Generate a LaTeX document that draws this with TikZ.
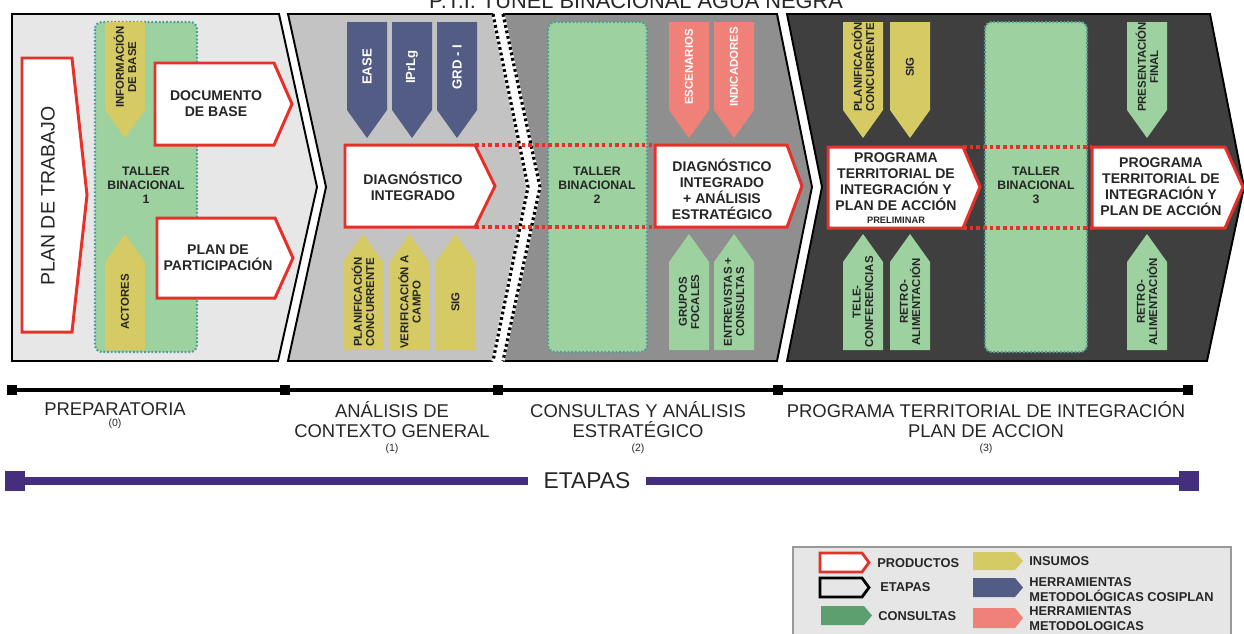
\documentclass[tikz,border=0pt]{standalone}
\usepackage{fontspec}
\setmainfont{Liberation Sans}
\usetikzlibrary{calc}
\definecolor{secA}{HTML}{E7E7E7}
\definecolor{secB}{HTML}{C3C3C3}
\definecolor{secC}{HTML}{8F8F8F}
\definecolor{secD}{HTML}{3F3F3F}
\definecolor{rojo}{HTML}{E4322B}
\definecolor{amar}{HTML}{D6CA64}
\definecolor{azul}{HTML}{525C85}
\definecolor{salm}{HTML}{EF8179}
\definecolor{verde}{HTML}{9DD1A0}
\definecolor{verdeO}{HTML}{5E9F70}
\definecolor{tealb}{HTML}{4E9C9B}
\definecolor{purp}{HTML}{432F7E}
\definecolor{txt}{HTML}{262626}
\definecolor{legbg}{HTML}{E6E6E6}
\newcommand{\myfs}[2]{\fontsize{#1}{#2}\selectfont}
% down arrow: name, xl, xr, fill, textcolor, text, font
\newcommand{\mkdown}[7]{%
  \fill[#4] (#2,22) -- (#3,22) -- (#3,110) -- ({(#2+#3)/2},138) -- (#2,110) -- cycle;
  \node[arrtxt, text=#5, font=#7] (#1) at ({(#2+#3)/2},67) {#6};}
\newcommand{\mkup}[7]{%
  \fill[#4] (#2,350) -- (#3,350) -- (#3,262) -- ({(#2+#3)/2},234) -- (#2,262) -- cycle;
  \node[arrtxt, text=#5, font=#7] (#1) at ({(#2+#3)/2},302) {#6};}
\tikzset{
  secline/.style={draw=black, line width=1.1pt, line join=miter},
  dotline/.style={draw=white, line width=1.8pt, postaction={draw=black, line width=1.8pt, dash pattern=on 1.6pt off 1.6pt}},
  taller/.style={fill=verde, draw=tealb, line width=1.2pt, dash pattern=on 1pt off 1.1pt, rounded corners=4pt},
  tallertxt/.style={font=\bfseries\myfs{7}{8}, align=center, text=txt, inner sep=0pt},
  arrtxt/.style={rotate=90, align=center, inner sep=0pt},
  prod/.style={draw=rojo, line width=1.7pt, fill=white, line join=miter},
  prodtxt/.style={font=\bfseries\myfs{8}{9.1}, align=center, text=txt, inner sep=0pt},
  reddot/.style={draw=rojo, line width=2pt, dash pattern=on 2pt off 1.8pt},
  tl/.style={font=\myfs{10.5}{11.6}, align=center, text=txt, inner sep=0pt},
  tn/.style={font=\myfs{6}{7}, text=txt, inner sep=0pt},
  tsq/.style={fill=black, minimum size=0.2cm, inner sep=0pt},
  psq/.style={fill=purp, minimum size=0.4cm, inner sep=0pt},
  legtxt/.style={font=\bfseries\myfs{7.3}{8.5}, align=left, text=txt, inner sep=0pt, anchor=west},
}
\begin{document}
\begin{tikzpicture}[x=0.02cm,y=-0.02cm]
\useasboundingbox (0,0) rectangle (1244,633);
% title (cut at top)
\node[anchor=base, font=\myfs{12.4}{14}, text=txt, inner sep=0pt] (title) at (636,8) {P.T.I. TÚNEL BINACIONAL AGUA NEGRA};
% sections
\fill[secA] (12,14) -- (279,14) -- (317,187) -- (278,361) -- (12,361) -- cycle;
\draw[secline] (12,14) -- (279,14) -- (317,187) -- (278,361) -- (12,361) -- cycle;
\fill[secB] (288,14) -- (493,14) -- (528,187) -- (493,361) -- (288,361) -- (326,187) -- cycle;
\draw[secline] (493,14) -- (288,14) -- (326,187) -- (288,361) -- (493,361);
\draw[dotline] (493,14) -- (528,187) -- (493,361);
\fill[secC] (503,14) -- (777,14) -- (812,187) -- (777,361) -- (503,361) -- (540,187) -- cycle;
\draw[secline] (503,14) -- (777,14) -- (812,187) -- (777,361) -- (503,361);
\draw[dotline] (503,14) -- (540,187) -- (503,361);
\fill[secD] (787,14) -- (1210,14) -- (1244,187) -- (1207,361) -- (787,361) -- (822,187) -- cycle;
\draw[secline] (787,14) -- (1210,14) -- (1244,187) -- (1207,361) -- (787,361) -- (822,187) -- cycle;
% talleres
\draw[taller] (95,22) rectangle (197,352);
\draw[taller] (548,22) rectangle (647,352);
\draw[taller] (985,22) rectangle (1087,352);
% section 1
\mkdown{infobase}{105}{145}{amar}{txt}{INFORMACIÓN\\DE BASE}{\bfseries\myfs{6.5}{7}}
\mkup{actores}{105}{145}{amar}{txt}{ACTORES}{\bfseries\myfs{6.5}{7}}
\node[tallertxt] (t1) at (146,185) {TALLER\\BINACIONAL\\1};
\draw[prod] (22,58) -- (72,58) -- (87,195) -- (72,332) -- (22,332) -- cycle;
\node[rotate=90, font=\myfs{11.1}{12}, text=txt, inner sep=0pt] (plan) at (48,196) {PLAN DE TRABAJO};
\draw[prod] (155,63) -- (274,63) -- (292,104) -- (274,145) -- (155,145) -- cycle;
\node[prodtxt] (doc) at (216,104) {DOCUMENTO\\DE BASE};
\draw[prod] (157,218) -- (275,218) -- (293,258) -- (275,298) -- (157,298) -- cycle;
\node[prodtxt] (part) at (218,258) {PLAN DE\\PARTICIPACIÓN};
% section 2
\mkdown{ease}{347}{387}{azul}{white}{EASE}{\bfseries\myfs{7.5}{8}}
\mkdown{iprlg}{392}{432}{azul}{white}{IPrLg}{\bfseries\myfs{7.5}{8}}
\mkdown{grd}{437}{477}{azul}{white}{GRD - I}{\bfseries\myfs{7.5}{8}}
\mkup{planc}{343}{383}{amar}{txt}{PLANIFICACIÓN\\CONCURRENTE}{\bfseries\myfs{6.5}{7}}
\mkup{verif}{390}{429}{amar}{txt}{VERIFICACIÓN A\\CAMPO}{\bfseries\myfs{6.5}{7}}
\mkup{sigA}{436}{475}{amar}{txt}{SIG}{\bfseries\myfs{6.5}{7}}
\draw[prod] (345,145) -- (475,145) -- (495,186) -- (475,227) -- (345,227) -- cycle;
\node[prodtxt] (diag) at (413,186) {DIAGNÓSTICO\\INTEGRADO};
% section 3
\node[tallertxt] (t2) at (597,185) {TALLER\\BINACIONAL\\2};
\mkdown{esc}{669}{709}{salm}{white}{ESCENARIOS}{\bfseries\myfs{6.5}{7}}
\mkdown{ind}{714}{754}{salm}{white}{INDICADORES}{\bfseries\myfs{6.5}{7}}
\mkup{grupos}{669}{709}{verde}{txt}{GRUPOS\\FOCALES}{\bfseries\myfs{6.5}{7}}
\mkup{entrev}{714}{754}{verde}{txt}{ENTREVISTAS +\\CONSULTAS}{\bfseries\myfs{6.5}{7}}
\draw[prod] (655,145) -- (787,145) -- (802,186) -- (787,227) -- (655,227) -- cycle;
\node[prodtxt] (diag2) at (722,189) {DIAGNÓSTICO\\INTEGRADO\\+ ANÁLISIS\\ESTRATÉGICO};
% section 4
\mkdown{planc2}{843}{883}{amar}{txt}{PLANIFICACIÓN\\CONCURRENTE}{\bfseries\myfs{6.5}{7}}
\mkdown{sigB}{890}{930}{amar}{txt}{SIG}{\bfseries\myfs{6.5}{7}}
\mkup{tele}{843}{883}{verde}{txt}{TELE-\\CONFERENCIAS}{\bfseries\myfs{6.5}{7}}
\mkup{retro1}{890}{930}{verde}{txt}{RETRO-\\ALIMENTACIÓN}{\bfseries\myfs{6.5}{7}}
\mkdown{pres}{1127}{1167}{verde}{txt}{PRESENTACIÓN\\FINAL}{\bfseries\myfs{6.5}{7}}
\mkup{retro2}{1127}{1167}{verde}{txt}{RETRO-\\ALIMENTACIÓN}{\bfseries\myfs{6.5}{7}}
\node[tallertxt] (t3) at (1036,185) {TALLER\\BINACIONAL\\3};
\draw[prod] (828,147) -- (963,147) -- (980,187) -- (963,228) -- (828,228) -- cycle;
\node[prodtxt] (pti1) at (896,188) {PROGRAMA\\TERRITORIAL DE\\INTEGRACIÓN Y\\PLAN DE ACCIÓN\\[-1.5pt]{\myfs{5.3}{6}PRELIMINAR}};
\draw[prod] (1092,147) -- (1225,147) -- (1243,187) -- (1225,228) -- (1092,228) -- cycle;
\node[prodtxt] (pti2) at (1161,187) {PROGRAMA\\TERRITORIAL DE\\INTEGRACIÓN Y\\PLAN DE ACCIÓN};
% red dotted links
\draw[reddot] (475,145) -- (655,145);
\draw[reddot] (475,227) -- (655,227);
\draw[reddot] (963,147) -- (1092,147);
\draw[reddot] (963,228) -- (1092,228);
% timeline
\node[tsq] (s0) at (12,390) {};
\node[tsq] (s1) at (285,390) {};
\node[tsq] (s2) at (498,390) {};
\node[tsq] (s3) at (778,390) {};
\node[tsq] (s4) at (1188,390) {};
\draw[line width=2.3pt] (s0) -- (s4);
\node[tl] (l0) at (115,409) {PREPARATORIA};
\node[tn] (n0) at (115,424) {(0)};
\node[tl, anchor=north] (l1) at (392,401) {ANÁLISIS DE\\CONTEXTO GENERAL};
\node[tn] (n1) at (392,449) {(1)};
\node[tl, anchor=north] (l2) at (638,401) {CONSULTAS Y ANÁLISIS\\ESTRATÉGICO};
\node[tn] (n2) at (638,449) {(2)};
\node[tl, anchor=north] (l3) at (986,401) {PROGRAMA TERRITORIAL DE INTEGRACIÓN\\PLAN DE ACCION};
\node[tn] (n3) at (986,449) {(3)};
% etapas bar
\node[psq] (p0) at (15,481) {};
\node[psq] (p1) at (1189,481) {};
\node[font=\myfs{13}{14}, text=txt, inner xsep=0.3cm, inner ysep=0pt] (etapas) at (587,481) {ETAPAS};
\draw[purp, line width=4pt] (p0) -- (etapas.west);
\draw[purp, line width=4pt] (etapas.east) -- (p1);
% legend
\draw[draw=gray!80, line width=0.6pt, fill=legbg] (793,547) rectangle (1231,650);
\draw[prod, line width=1.6pt] (820,553) -- (862,553) -- (869,562.5) -- (862,572) -- (820,572) -- cycle;
\node[legtxt] (lp) at (877,563) {PRODUCTOS};
\draw[draw=black, line width=1.6pt, line join=miter] (820,578) -- (862,578) -- (869,587.5) -- (862,597) -- (820,597) -- cycle;
\node[legtxt] (le) at (880,587) {ETAPAS};
\fill[verdeO] (821,606) -- (864,606) -- (872,615.5) -- (864,625) -- (821,625) -- cycle;
\node[legtxt] (lc) at (878,616) {CONSULTAS};
\fill[amar] (973,552) -- (1015,552) -- (1023,561) -- (1015,570) -- (973,570) -- cycle;
\node[legtxt] (li) at (1029,561) {INSUMOS};
\fill[azul] (973,578) -- (1015,578) -- (1023,587.5) -- (1015,597) -- (973,597) -- cycle;
\node[legtxt] (lh) at (1029,589.5) {HERRAMIENTAS\\METODOLÓGICAS COSIPLAN};
\fill[salm] (973,608) -- (1015,608) -- (1023,618) -- (1015,628) -- (973,628) -- cycle;
\node[legtxt] (lm) at (1029,618.5) {HERRAMIENTAS\\METODOLOGICAS};
\end{tikzpicture}
\end{document}
